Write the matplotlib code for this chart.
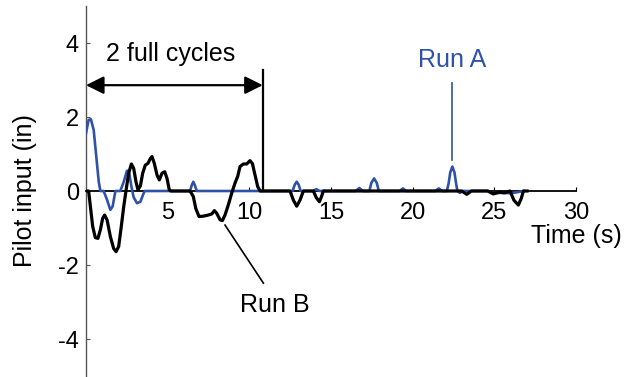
import matplotlib
matplotlib.use("Agg")
import matplotlib.pyplot as plt

plt.rcParams['font.family'] = ['Liberation Sans', 'DejaVu Sans']
plt.rcParams['axes.unicode_minus'] = False

# Pilot input traces (time in s, input in inches)
run_a_t = [0, 0.16, 0.3, 0.47, 0.61, 0.78, 0.88, 1.08, 1.29, 1.49, 1.63, 1.8,
           2.1, 2.31, 2.51, 2.65, 2.78, 2.92, 3.12, 3.33, 3.53, 3.6,
           6.37, 6.47, 6.57, 6.67, 6.78,
           12.65, 12.78, 12.9, 13.02, 13.14, 13.9, 14.1, 14.3,
           16.5, 16.74, 16.95, 17.35, 17.47, 17.64, 17.8, 17.93,
           19.2, 19.4, 19.6, 21.4, 21.6, 21.8,
           22.09, 22.2, 22.3, 22.43, 22.56, 22.66, 22.74, 22.9, 23.05,
           24.6, 24.9, 25.4, 26.0, 26.3, 26.8]
run_a_in = [1.56, 1.92, 1.94, 1.65, 1.02, 0.25, 0, 0, -0.24, -0.51, -0.42, 0,
            0, 0.25, 0.55, 0.48, 0.12, -0.17, -0.33, -0.29, -0.06, 0,
            0, 0.15, 0.25, 0.15, 0,
            0, 0.17, 0.25, 0.17, 0, 0, 0.05, 0,
            0, 0.08, 0, 0, 0.22, 0.34, 0.22, 0,
            0, 0.07, 0, 0, 0.07, 0,
            0, 0.2, 0.5, 0.66, 0.5, 0.2, 0, -0.05, 0,
            0, -0.06, -0.05, -0.06, -0.04, 0]

run_b_t = [0, 0.16, 0.27, 0.41, 0.57, 0.73, 0.88, 1.02, 1.14, 1.29, 1.49, 1.69,
           1.84, 2.0, 2.16, 2.31, 2.47, 2.61, 2.78, 2.92, 3.06, 3.18, 3.33, 3.47,
           3.63, 3.8, 3.94, 4.04, 4.18, 4.35, 4.49, 4.65, 4.82, 4.96, 5.1, 5.2,
           6.37, 6.57, 6.72, 6.92, 7.18, 7.49, 7.7, 7.86, 8.0, 8.21, 8.35, 8.51,
           8.71, 8.92, 9.12, 9.29, 9.43, 9.63, 9.84, 10.04, 10.19, 10.35, 10.51,
           10.66, 12.49, 12.7, 12.9, 13.1, 13.31, 13.92, 14.1, 14.29, 14.42,
           14.53, 23.0, 23.31, 23.6, 24.6, 24.94, 25.3, 25.6, 25.96, 26.2,
           26.47, 26.65, 26.78, 27.0]
run_b_in = [0, 0, -0.42, -0.96, -1.26, -1.28, -1.05, -0.74, -0.65, -0.78, -1.23,
            -1.55, -1.64, -1.5, -0.96, -0.42, 0.07, 0.48, 0.73, 0.61, 0.25, 0.03,
            0.14, 0.48, 0.70, 0.75, 0.88, 0.93, 0.75, 0.43, 0.30, 0.48, 0.52,
            0.34, 0.03, 0,
            0, -0.15, -0.47, -0.69, -0.68, -0.65, -0.62, -0.53, -0.60, -0.78,
            -0.80, -0.65, -0.38, -0.06, 0.21, 0.40, 0.66, 0.73, 0.73, 0.82, 0.74,
            0.43, 0.12, 0, 0, -0.25, -0.41, -0.25, 0, 0, -0.18, -0.29, -0.15,
            0, 0, -0.09, 0, 0, -0.08, -0.03, -0.05, 0, -0.25, -0.38, -0.2, 0, 0]

x_ticks = [5, 10, 15, 20, 25, 30]
y_ticks = [-4, -2, 0, 2, 4]

blue = '#2f52a8'

fig = plt.figure(figsize=(6.26, 3.77), dpi=100)
ax = fig.add_axes([86 / 626, 1 / 377, 490 / 626, 370 / 377])

ax.plot(run_a_t, run_a_in, color=blue, lw=1.9, solid_joinstyle='round', zorder=3)
ax.plot(run_b_t, run_b_in, color='black', lw=2.3, solid_joinstyle='round', zorder=4)

ax.set_xlim(0, 30)
ax.set_ylim(-5, 5)
ax.set_xticks(x_ticks)
ax.set_yticks(y_ticks)

for side in ('top', 'right'):
    ax.spines[side].set_visible(False)
ax.spines['left'].set_position(('data', 0))
ax.spines['left'].set_color('#555555')
ax.spines['left'].set_linewidth(1.0)
ax.spines['bottom'].set_position(('data', 0))
ax.spines['bottom'].set_linewidth(1.3)

ax.tick_params(axis='both', direction='in', length=3, labelsize=17)
ax.tick_params(axis='x', pad=8)
ax.tick_params(axis='y', pad=5, color='#555555')

ax.set_ylabel('Pilot input (in)', fontsize=18)
ax.yaxis.set_label_coords(-0.1, 0.5)
ax.text(30, -1.22, 'Time (s)', fontsize=18, ha='center', va='center')

# Two-cycle span marker
ax.annotate('', xy=(0, 2.86), xytext=(10.82, 2.86),
            arrowprops=dict(arrowstyle='<|-|>,head_length=0.9,head_width=0.45',
                            mutation_scale=12, lw=1.6, color='black',
                            shrinkA=0, shrinkB=0))
ax.plot([10.82, 10.82], [0, 3.27], color='black', lw=1.6)
ax.text(5.2, 3.7, '2 full cycles', fontsize=18, ha='center', va='center')

# Run labels with leader lines
ax.plot([22.43, 22.43], [0.84, 2.92], color=blue, lw=1.2)
ax.text(22.43, 3.54, 'Run A', fontsize=18, color=blue, ha='center', va='center')
ax.plot([8.51, 10.86], [-0.92, -2.49], color='black', lw=1.2)
ax.text(11.57, -3.08, 'Run B', fontsize=18, ha='center', va='center')

fig.savefig('out.png', dpi=100)
